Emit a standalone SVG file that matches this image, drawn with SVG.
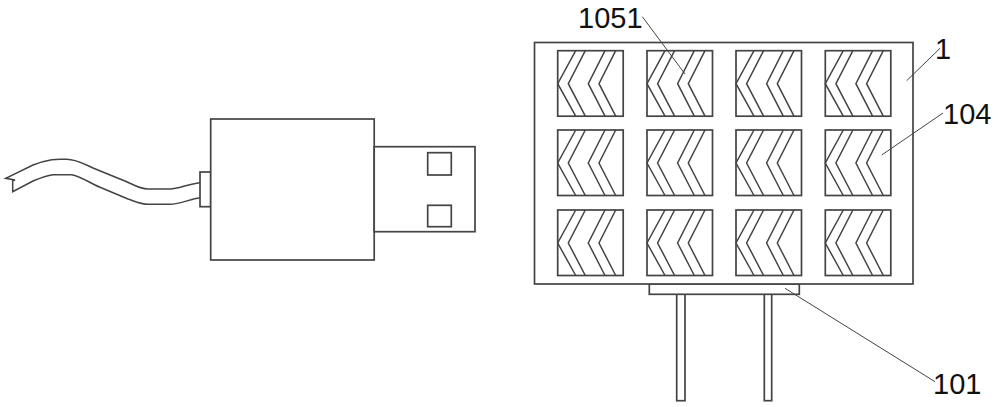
<svg xmlns="http://www.w3.org/2000/svg" xmlns:xlink="http://www.w3.org/1999/xlink" width="1000" height="407" viewBox="0 0 1000 407">
<style>
.o{fill:#fff;stroke:#444;stroke-width:1.7}
.n{fill:none;stroke:#444;stroke-width:1.5}
.l{fill:none;stroke:#444;stroke-width:1}
text{font-family:"Liberation Sans",Arial,sans-serif;font-size:29px;fill:#111}
</style>
<defs>
<g id="cell">
<rect class="o" x="0" y="0" width="65.5" height="65.5"/>
<path class="n" d="M18 0L0 33L18 65.5M27.6 0L10.6 33L27.6 65.5M47.3 0L30.6 33L47.3 65.5M58 0L41.3 33L58 65.5"/>
</g>
</defs>
<rect width="1000" height="407" fill="#fff"/>
<g id="usb-cable">
<path class="n" d="M200 182.7C188 184 178 189 170 189L148 189C140 189 132 184 126.700 181.700L93 168C84 164 76 159.300 66.700 159.300C60 159.300 56 159 51.700 159.700C44 161 38 163 33 165L5.700 178.300L15 180L12.700 180.700L12.700 191.700L33 181C40 178 46 175.500 53 174.700L71.700 174.700C80 176 90 183 100 187.300L128 199C134 201 141 204.300 148 204.300L170 204.300C180 204.300 190 199 200 197.700"/>
</g>
<g id="usb-collar"><rect class="o" x="200" y="172" width="10.700" height="34.700"/></g>
<g id="usb-body"><rect class="o" x="210.700" y="119" width="163.500" height="141"/></g>
<g id="usb-plug">
<rect class="o" x="374.200" y="146.700" width="100.800" height="85"/>
<rect class="o" x="427.700" y="152.700" width="23.600" height="22.300"/>
<rect class="o" x="427.700" y="205.300" width="23.600" height="21.400"/>
</g>
<g id="pin-1"><rect class="o" x="676.700" y="294" width="8.300" height="106.700"/></g>
<g id="pin-2"><rect class="o" x="764.300" y="294" width="7.400" height="106.700"/></g>
<g id="base-101"><rect class="o" x="649.300" y="284" width="150" height="10.300"/></g>
<g id="panel-1"><rect class="o" x="534.500" y="42.500" width="378.500" height="241.500"/></g>
<g id="cells-104">
<use xlink:href="#cell" href="#cell" x="557.700" y="50.700"/>
<use xlink:href="#cell" href="#cell" x="647" y="50.700"/>
<use xlink:href="#cell" href="#cell" x="736" y="50.700"/>
<use xlink:href="#cell" href="#cell" x="825.300" y="50.700"/>
<use xlink:href="#cell" href="#cell" x="557.700" y="130"/>
<use xlink:href="#cell" href="#cell" x="647" y="130"/>
<use xlink:href="#cell" href="#cell" x="736" y="130"/>
<use xlink:href="#cell" href="#cell" x="825.300" y="130"/>
<use xlink:href="#cell" href="#cell" x="557.700" y="210"/>
<use xlink:href="#cell" href="#cell" x="647" y="210"/>
<use xlink:href="#cell" href="#cell" x="736" y="210"/>
<use xlink:href="#cell" href="#cell" x="825.300" y="210"/>
</g>
<g id="connectors">
<path class="l" d="M642.300 16.700L685 74"/>
<path class="l" d="M940 48.300L906.700 80.700"/>
<path class="l" d="M943 113L881.700 155"/>
<path class="l" d="M935 381.700L785 288.300"/>
</g>
<g id="labels">
<text x="578" y="28">1051</text>
<text x="935" y="59">1</text>
<text x="943" y="124">104</text>
<text x="933" y="394">101</text>
</g>
</svg>
